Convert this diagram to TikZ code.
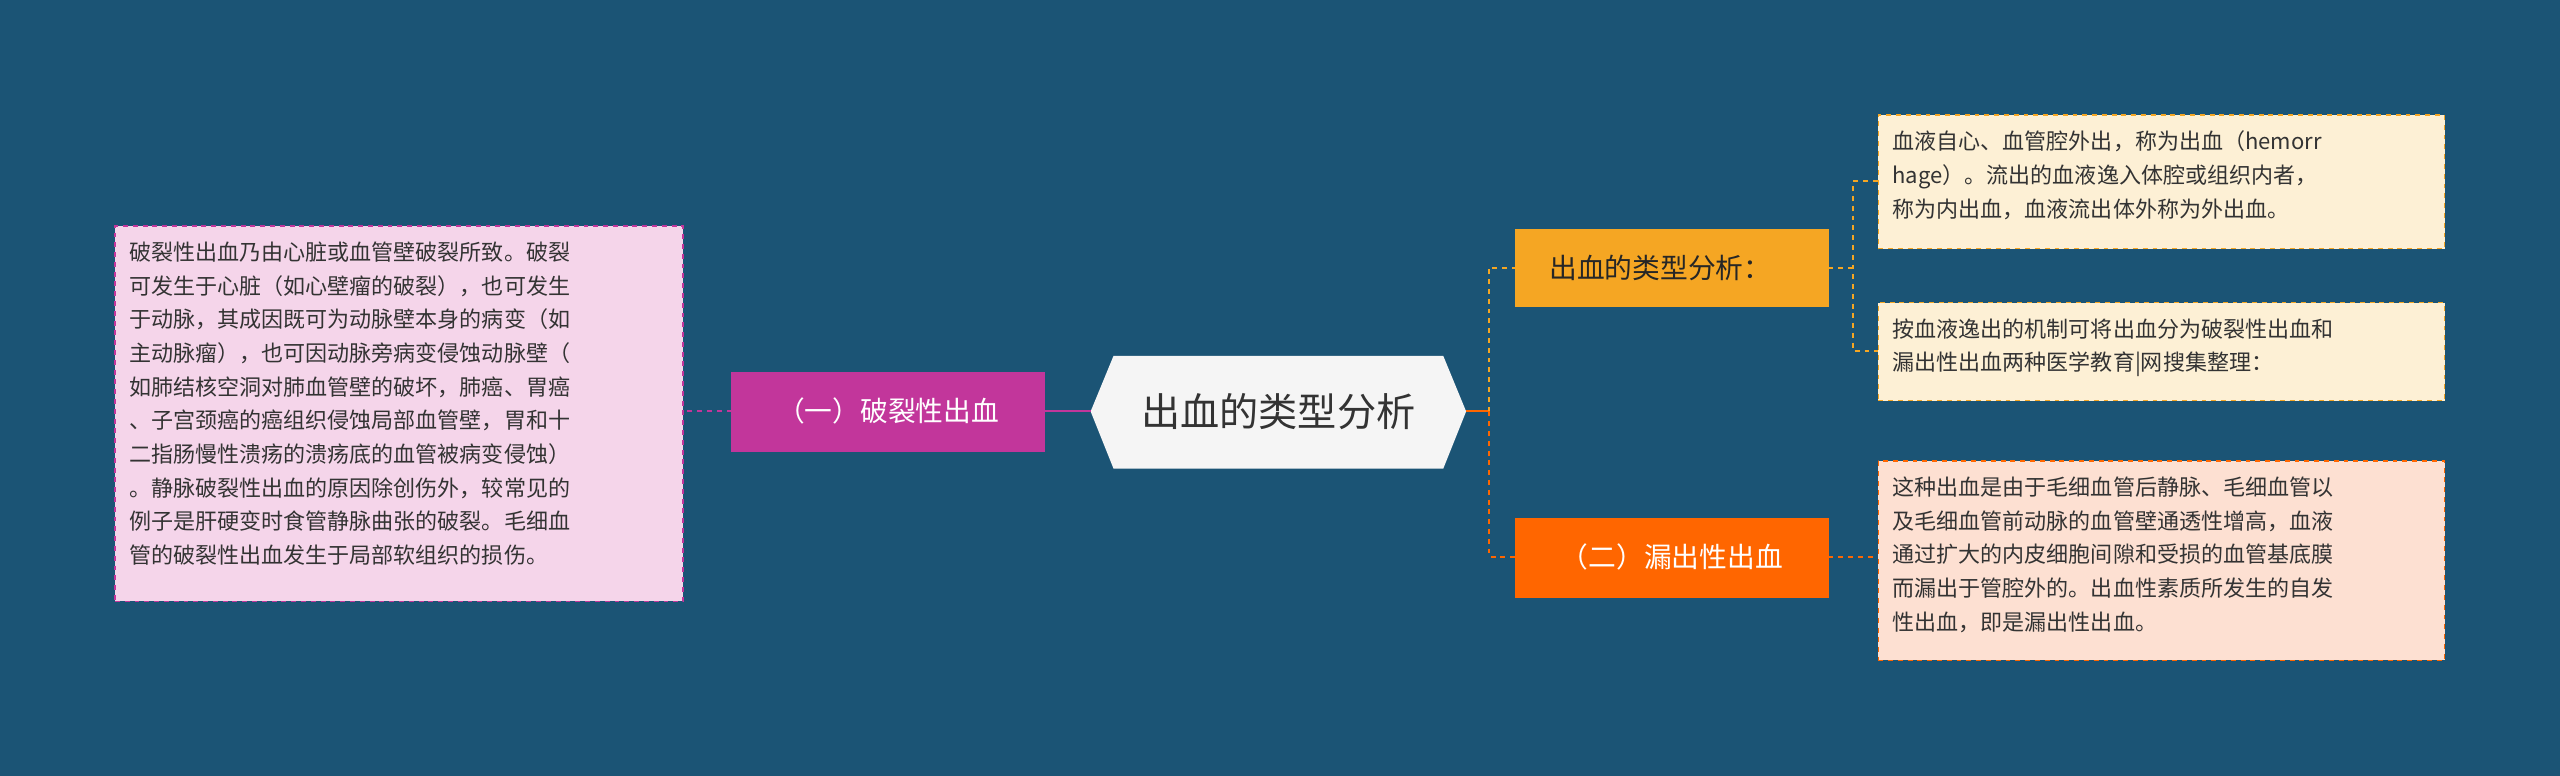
\documentclass[tikz,border=0pt]{standalone}
\usepackage{fontspec}
\setmainfont{Noto Sans CJK SC}
\begin{document}
\begin{tikzpicture}[x=1pt,y=-1pt,
  leaf/.style={draw=#1,dashed,line width=0.8pt,anchor=north west,inner sep=0pt},
  br/.style={anchor=north west,inner sep=0pt},
  conn/.style={line width=1.2pt}]
\definecolor{bg}{RGB}{27,84,117}
\definecolor{mag}{RGB}{194,54,155}
\definecolor{org}{RGB}{245,166,35}
\definecolor{red}{RGB}{255,102,0}
\definecolor{pinkf}{RGB}{245,213,234}
\definecolor{beige}{RGB}{253,240,213}
\definecolor{salm}{RGB}{253,224,210}
\fill[bg] (0,0) rectangle (1568,475);
\useasboundingbox (0,0) rectangle (1568,475);
% center
\fill[gray!8] (668,252)--(682,218)--(884,218)--(898,252)--(884,287)--(682,287)--cycle;
\node (c) at (783,252) {\fontsize{24}{28}\selectfont\color{black!80}出血的类型分析};
\coordinate (cl) at (668,252); \coordinate (cr) at (898,252);
% left
\fill[mag] (448,228) rectangle (640,277);
\node[text=white,font=\fontsize{17}{20}\selectfont] (l1) at (544,252) {（一）破裂性出血};
\coordinate (l1l) at (448,252); \coordinate (l1r) at (640,252);
\node[leaf=mag,fill=pinkf,minimum width=348pt,minimum height=230pt] (lf) at (70,138) {};
\node[br,align=left,font=\fontsize{13.5}{20.6}\selectfont,text=black!80] at (79,148) {破裂性出血乃由心脏或血管壁破裂所致。破裂\\可发生于心脏（如心壁瘤的破裂），也可发生\\于动脉，其成因既可为动脉壁本身的病变（如\\主动脉瘤），也可因动脉旁病变侵蚀动脉壁（\\如肺结核空洞对肺血管壁的破坏，肺癌、胃癌\\、子宫颈癌的癌组织侵蚀局部血管壁，胃和十\\二指肠慢性溃疡的溃疡底的血管被病变侵蚀）\\。静脉破裂性出血的原因除创伤外，较常见的\\例子是肝硬变时食管静脉曲张的破裂。毛细血\\管的破裂性出血发生于局部软组织的损伤。};
\draw[conn,mag] (cl)--(l1r);
\draw[conn,mag,dashed] (l1l)--(418,252);
% right branches
\fill[org] (928,140) rectangle (1120,188);
\node[font=\fontsize{17}{20}\selectfont,text=black!85] (r1) at (1017,164) {出血的类型分析：};
\fill[red] (928,317) rectangle (1120,366);
\node[font=\fontsize{17}{20}\selectfont,text=white] (r2) at (1024,341) {（二）漏出性出血};
\draw[conn,red] (cr)--(912,252);
\draw[conn,org,dashed] (912,252)--(912,164)--(928,164);
\draw[conn,red,dashed] (912,252)--(912,341)--(928,341);
% right leaves
\node[leaf=org,fill=beige,minimum width=347pt,minimum height=82pt] (a) at (1150,70) {};
\node[br,align=left,font=\fontsize{13.5}{20.6}\selectfont,text=black!80] at (1159,80) {血液自心、血管腔外出，称为出血（hemorr\\hage）。流出的血液逸入体腔或组织内者，\\称为内出血，血液流出体外称为外出血。};
\node[leaf=org,fill=beige,minimum width=347pt,minimum height=60pt] (b) at (1150,185) {};
\node[br,align=left,font=\fontsize{13.5}{20.6}\selectfont,text=black!80] at (1159,195) {按血液逸出的机制可将出血分为破裂性出血和\\漏出性出血两种医学教育|网搜集整理：};
\draw[conn,org,dashed] (1120,164)--(1135,164);
\draw[conn,org,dashed] (1150,111)--(1135,111)--(1135,215)--(1150,215);
\node[leaf=red,fill=salm,minimum width=347pt,minimum height=122pt] (d) at (1150,282) {};
\node[br,align=left,font=\fontsize{13.5}{20.6}\selectfont,text=black!80] at (1159,292) {这种出血是由于毛细血管后静脉、毛细血管以\\及毛细血管前动脉的血管壁通透性增高，血液\\通过扩大的内皮细胞间隙和受损的血管基底膜\\而漏出于管腔外的。出血性素质所发生的自发\\性出血，即是漏出性出血。};
\draw[conn,red,dashed] (1120,341)--(1150,341);
\end{tikzpicture}
\end{document}
